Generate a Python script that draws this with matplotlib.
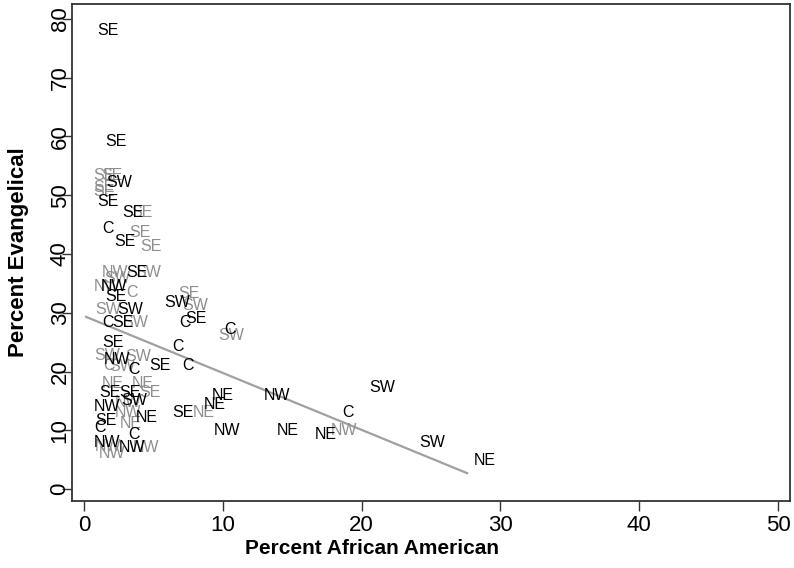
import matplotlib
matplotlib.use("Agg")
import matplotlib.pyplot as plt
from matplotlib import font_manager

# ---- data ----
black_x = [1.73, 2.3, 2.5, 1.73, 3.5, 1.73, 2.95, 3.83, 2.16, 2.3, 3.3, 1.73, 2.81,
           2.1, 2.38, 3.6, 5.5, 7.5, 1.87, 3.31, 3.6, 1.66, 1.58, 4.54, 1.15, 3.6,
           1.66, 3.46, 7.1, 6.7, 8.1, 7.3, 10.5, 6.8, 10.0, 9.4, 10.3, 13.9, 14.7,
           21.5, 19.0, 17.4, 25.1, 28.9]
black_y = [78.1, 59.1, 52.1, 48.9, 47.1, 44.3, 42.2, 36.9, 34.4, 32.7, 30.5, 28.3, 28.3,
           25.0, 22.0, 20.3, 21.1, 21.1, 16.5, 16.5, 15.1, 14.0, 11.7, 12.1, 10.4, 9.2,
           8.0, 7.0, 13.1, 31.8, 29.1, 28.3, 27.1, 24.2, 16.0, 14.3, 10.0, 16.0, 10.0,
           17.2, 13.1, 9.2, 8.0, 4.9]
black_lab = ["SE", "SE", "SW", "SE", "SE", "C", "SE", "SE", "NW", "SE", "SW", "C", "SE",
             "SE", "NW", "C", "SE", "C", "SE", "SE", "SW", "NW", "SE", "NE", "C", "C",
             "NW", "NW", "SE", "SW", "SE", "C", "C", "C", "NE", "NE", "NW", "NW", "NE",
             "SW", "C", "NE", "SW", "NE"]

gray_x = [1.44, 2.0, 1.44, 1.44, 4.18, 4.03, 4.83, 2.23, 4.6, 2.4, 1.66, 3.46, 1.73,
          3.67, 7.56, 8.0, 10.6, 1.66, 3.9, 1.8, 2.74, 2.1, 4.2, 4.76, 3.17, 3.17,
          3.39, 8.65, 4.47, 2.0, 1.73, 18.7]
gray_y = [53.4, 53.4, 51.4, 50.6, 47.1, 43.6, 41.2, 36.9, 36.9, 35.9, 34.4, 33.4, 30.5,
          28.3, 33.2, 31.3, 26.2, 22.8, 22.5, 21.1, 20.9, 17.9, 17.9, 16.5, 14.8, 13.1,
          11.2, 13.1, 7.1, 6.1, 7.3, 10.0]
gray_lab = ["SE", "SE", "SE", "SE", "SE", "SE", "SE", "NW", "SW", "SW", "NW", "C", "SW",
            "SW", "SE", "SW", "SW", "SW", "SW", "C", "SW", "NE", "NE", "SE", "NW", "NW",
            "NE", "NE", "NW", "NW", "NW", "NW"]

fit_x = [0.15, 27.6]
fit_y = [29.3, 2.7]

x_ticks = [0, 10, 20, 30, 40, 50]
y_ticks = [0, 10, 20, 30, 40, 50, 60, 70, 80]

# ---- fonts ----
avail = {f.name for f in font_manager.fontManager.ttflist}
narrow = "Liberation Sans Narrow" if "Liberation Sans Narrow" in avail else "Liberation Sans"
lab_font = "Liberation Sans"

fig = plt.figure(figsize=(7.94, 5.68), dpi=100)
ax = fig.add_axes([72 / 794, 1 - 501 / 568, (790 - 72) / 794, (501 - 4) / 568])

ax.set_xlim(-0.865, 50.86)
ax.set_ylim(-2.04, 82.55)

ax.plot(fit_x, fit_y, color="#a0a0a0", lw=1.6, zorder=1)

for x, y, t in zip(gray_x, gray_y, gray_lab):
    ax.text(x, y, t, color="#8e8e8e", fontsize=11.5, family=lab_font,
            ha="center", va="center", zorder=2)
for x, y, t in zip(black_x, black_y, black_lab):
    ax.text(x, y, t, color="black", fontsize=11.5, family=lab_font,
            ha="center", va="center", zorder=3)

ax.set_xticks(x_ticks)
ax.set_yticks(y_ticks)
ax.set_xticklabels([str(v) for v in x_ticks], family=narrow, fontsize=16)
ax.set_yticklabels([str(v) for v in y_ticks], family=narrow, fontsize=16,
                   rotation=90, va="center")
ax.tick_params(axis="both", direction="out", length=7, width=1, color="#333333")
ax.tick_params(axis="x", pad=3)
ax.tick_params(axis="y", pad=-6)

for s in ax.spines.values():
    s.set_color("#333333")
    s.set_linewidth(1.3)

ax.set_xlabel("Percent African American", family=narrow, fontsize=15,
              fontweight="bold", labelpad=3)
ax.xaxis.set_label_coords((372 - 72) / 718, -(548 - 501) / 497)
ax.xaxis.label.set_va("center")
ax.set_ylabel("Percent Evangelical", family=narrow, fontsize=16,
              fontweight="bold")
ax.yaxis.set_label_coords(-(72 - 19) / 718, 0.5)
ax.yaxis.label.set_va("center")

fig.savefig("out.png", dpi=100)
